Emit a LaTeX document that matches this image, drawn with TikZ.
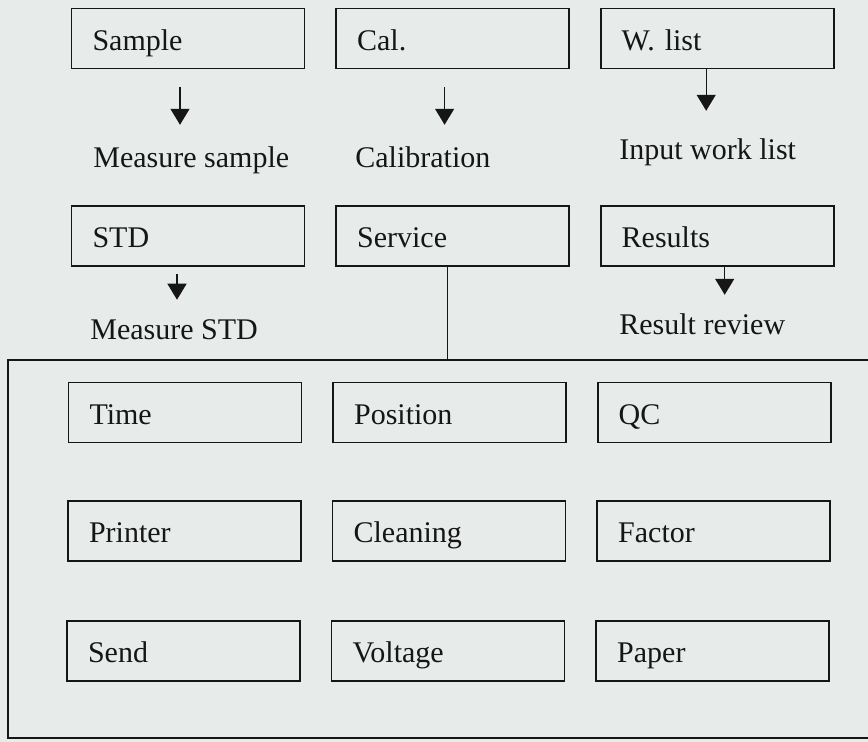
\documentclass[tikz,border=0pt]{standalone}
\usepackage{fontspec}
\setmainfont{Liberation Serif}
\usetikzlibrary{arrows.meta,positioning}
\definecolor{paper}{RGB}{231,236,234}
\definecolor{ink}{RGB}{22,22,22}

\begin{document}
\begin{tikzpicture}[x=0.5pt,y=-0.5pt,node distance=15pt and 15pt]

\tikzset{menubox/.style={draw=ink,line width=0.8pt,font=\fontsize{15}{18}\selectfont\frenchspacing,text=ink,minimum height=30pt,text width=95.5pt,inner xsep=10.5pt,align=left,text height=13pt,text depth=1pt},
menulabel/.style={font=\fontsize{15}{18}\selectfont,text=ink,inner sep=0pt,anchor=base west},
flow/.style={draw=ink,line width=0.7pt,-{Triangle[width=9.5pt,length=8pt]}}}

% Page
\useasboundingbox[fill=paper] (0,0) rectangle (868,742);

% Top menu row
\node (sample) [menubox] at (188,38.5) {Sample};
\node (cal) [right=of sample,menubox] {Cal.};
\node (wlist) [right=of cal,menubox] {W. list};

% Second menu row
\node (std) [menubox] at (188,236) {STD};
\node (service) [right=of std,menubox] {Service};
\node (results) [right=of service,menubox] {Results};

% Labels under the menus
\node (msample) [menulabel] at (93,168) {Measure sample};
\node (calib) [menulabel] at (355,168) {Calibration};
\node (inwork) [menulabel] at (619,160) {Input work list};
\node (mstd) [menulabel] at (90,340) {Measure STD};
\node (review) [menulabel] at (619,335) {Result review};

% Arrows
\draw[flow,shorten <=9pt,shorten >=11pt] ([xshift=-4pt]sample.south) -- ([xshift=-4pt]sample.south |- msample.north);
\draw[flow,shorten <=9pt,shorten >=11pt] ([xshift=-4pt]cal.south) -- ([xshift=-4pt]cal.south |- calib.north);
\draw[flow,shorten >=14pt] ([xshift=-5.5pt]wlist.south) -- ([xshift=-5.5pt]wlist.south |- inwork.north);
\draw[flow,shorten <=3.5pt,shorten >=10pt] ([xshift=-5.5pt]std.south) -- ([xshift=-5.5pt]std.south |- mstd.north);
\draw[flow,shorten >=9.5pt] ([xshift=3.75pt]results.south) -- ([xshift=3.75pt]results.south |- review.north);

% Service sub-menu frame
\coordinate (frametop) at (8,360);
\draw[ink,line width=0.8pt] (frametop) rectangle (880,738);
\draw[ink,line width=0.8pt] ([xshift=-2.5pt]service.south) -- ([xshift=-2.5pt]service.south |- frametop);

% Service sub-menu items
\node (time) [menubox] at (185,412.5) {Time};
\node (position) [right=of time,menubox] {Position};
\node (qc) [right=of position,menubox] {QC};
\node (printer) [menubox] at (184.5,531) {Printer};
\node (cleaning) [right=of printer,menubox] {Cleaning};
\node (factor) [right=of cleaning,menubox] {Factor};
\node (send) [menubox] at (183.5,651) {Send};
\node (voltage) [right=of send,menubox] {Voltage};
\node (paper) [right=of voltage,menubox] {Paper};

\end{tikzpicture}
\end{document}
